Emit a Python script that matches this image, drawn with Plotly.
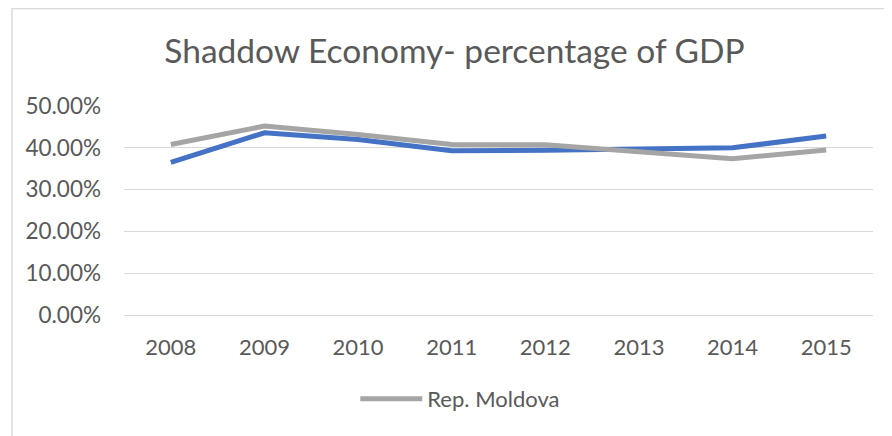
import plotly.graph_objects as go

years = ["2008", "2009", "2010", "2011", "2012", "2013", "2014", "2015"]
series_blue = [0.365, 0.436, 0.420, 0.393, 0.394, 0.398, 0.400, 0.428]
series_moldova = [0.408, 0.452, 0.432, 0.408, 0.407, 0.391, 0.374, 0.395]
y_ticks = [0.0, 0.1, 0.2, 0.3, 0.4, 0.5]
y_tick_labels = ["0.00%", "10.00%", "20.00%", "30.00%", "40.00%", "50.00%"]

FONT = "Lato"
GREY_TXT = "#595959"

fig = go.Figure()
fig.add_trace(go.Scatter(
    x=years, y=series_blue, mode="lines", name="Series",
    line=dict(color="#4472C4", width=5), showlegend=False,
))
fig.add_trace(go.Scatter(
    x=years, y=series_moldova, mode="lines", name="Rep. Moldova",
    line=dict(color="#A5A5A5", width=5),
))

# page has an 8px body margin, so the figure is sized to the visible area
W, H = 884, 428
L, R, T, B = 116, 19, 98, 121
pw, ph = W - L - R, H - T - B
bx = (4 - L) / pw
by = (H - B - 0.5) / ph

fig.update_layout(
    width=W, height=H,
    margin=dict(l=L, r=R, t=T, b=B),
    paper_bgcolor="white", plot_bgcolor="white",
    font=dict(family=FONT, color=GREY_TXT),
    title=dict(text="Shaddow Economy- percentage of GDP", x=446.5 / W, xanchor="center",
               y=1 - 43 / H, yanchor="middle",
               font=dict(family=FONT, size=33.5, color=GREY_TXT)),
    xaxis=dict(type="category", range=[-0.5, 7.5], showgrid=False, showline=False, ticks="",
               tickfont=dict(size=22, color=GREY_TXT), ticklabelstandoff=17),
    yaxis=dict(range=[0, 0.5], tickvals=y_ticks, ticktext=y_tick_labels,
               showgrid=True, gridcolor="#D9D9D9", gridwidth=1,
               zeroline=True, zerolinecolor="#D9D9D9", zerolinewidth=1,
               showline=False, ticks="", ticklabelstandoff=22,
               tickfont=dict(size=22.5, color=GREY_TXT)),
    legend=dict(orientation="h", x=0.449, xanchor="center", y=(H - B - 391) / ph,
                yanchor="middle", font=dict(size=22, color=GREY_TXT),
                itemwidth=62),
    shapes=[dict(type="path", xref="paper", yref="paper",
                 path=f"M {bx} -1 L {bx} {by} L 2 {by}",
                 line=dict(color="#D9D9D9", width=1.5))],
)

fig.write_html("out.html")
